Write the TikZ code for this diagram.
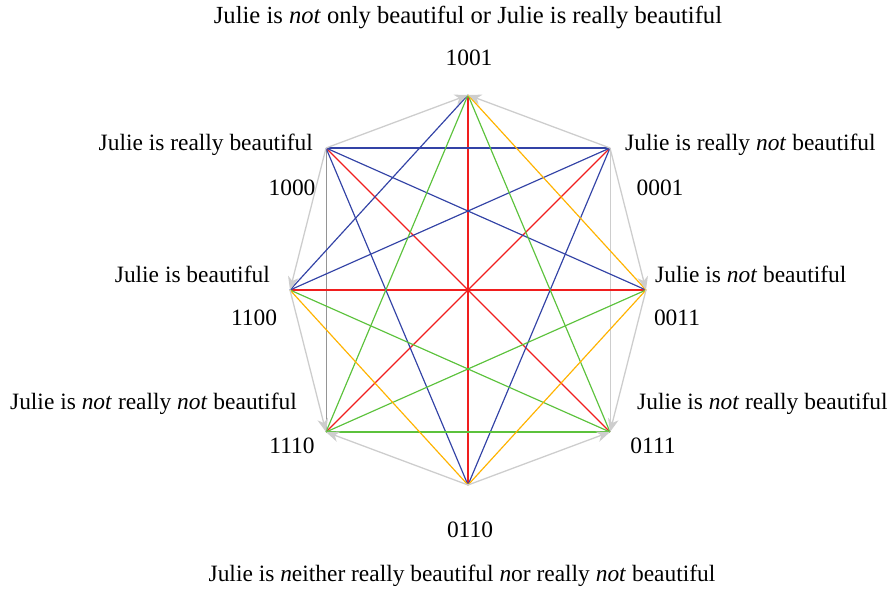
\documentclass[tikz,border=0pt]{standalone}
\usepackage{fontspec}
\setmainfont{Liberation Serif}
\usetikzlibrary{arrows.meta}
\definecolor{cblue}{HTML}{3343A6}
\definecolor{cgreen}{HTML}{5CC23C}
\definecolor{cred}{HTML}{F01E1E}
\definecolor{corange}{HTML}{FFB300}
\definecolor{cgray}{HTML}{CDCDCD}
\definecolor{cdgray}{HTML}{959595}
\tikzset{
  lbl/.style={inner sep=0pt, font=\fontsize{20}{24}\selectfont},
  bl/.style={cblue, line width=1pt},
  gr/.style={cgreen, line width=1pt},
  rd/.style={cred, line width=1pt},
  og/.style={corange, line width=1pt},
  garr/.style={cgray, line width=1.1pt, -{Stealth[length=0.4cm,width=0.32cm,inset=0.12cm]}},
  gline/.style={line width=0.8pt},
}
\begin{document}
\begin{tikzpicture}[x=0.03cm,y=-0.03cm]
\useasboundingbox (0,0) rectangle (894,590);
\coordinate (A) at (468,95);
\coordinate (B) at (610,148);
\coordinate (C) at (646,290);
\coordinate (D) at (610,432);
\coordinate (E) at (468,485);
\coordinate (F) at (326,432);
\coordinate (G) at (290,290);
\coordinate (H) at (326,148);
% verticals
\draw[gline, cdgray] (H) -- (F);
\draw[gline, cgray] (B) -- (D);
% red
\draw[rd] (A) -- (E);
\draw[rd] (G) -- (C);
\draw[rd] (H) -- (D);
\draw[rd] (B) -- (F);
% blue
\draw[bl] (H) -- (B);
\draw[bl] (H) -- (C);
\draw[bl] (H) -- (E);
\draw[bl] (B) -- (G);
\draw[bl] (B) -- (E);
\draw[bl] (A) -- (G);
% green
\draw[gr] (A) -- (F);
\draw[gr] (A) -- (D);
\draw[gr] (G) -- (D);
\draw[gr] (C) -- (F);
\draw[gr] (F) -- (D);
% orange
\draw[og] (A) -- (C);
\draw[og] (C) -- (E);
\draw[og] (G) -- (E);
% gray arrows
\draw[garr] (H) -- (A);
\draw[garr] (B) -- (A);
\draw[garr] (H) -- (G);
\draw[garr] (B) -- (C);
\draw[garr] (G) -- (F);
\draw[garr] (C) -- (D);
\draw[garr] (E) -- (F);
\draw[garr] (E) -- (D);
% labels
\node[lbl, font=\fontsize{21}{25}\selectfont] (tA) at (468,17) {Julie is \textit{not} only beautiful or Julie is really beautiful};
\node[lbl] (nA) at (469,58) {1001};
\node[lbl, anchor=east] (tH) at (313,145) {Julie is really beautiful};
\node[lbl] (nH) at (292,188) {1000};
\node[lbl, anchor=west] (tB) at (625,145) {Julie is really \textit{not} beautiful};
\node[lbl] (nB) at (660,188) {0001};
\node[lbl, anchor=east] (tG) at (270,274) {Julie is beautiful};
\node[lbl] (nG) at (254,318) {1100};
\node[lbl, anchor=west] (tC) at (655,274) {Julie is \textit{not} beautiful};
\node[lbl] (nC) at (677,318) {0011};
\node[lbl, anchor=east] (tF) at (297,404) {Julie is \textit{not} really \textit{not} beautiful};
\node[lbl] (nF) at (292,446) {1110};
\node[lbl, anchor=west] (tD) at (637,404) {Julie is \textit{not} really beautiful};
\node[lbl] (nD) at (653,446) {0111};
\node[lbl] (nE) at (470,530) {0110};
\node[lbl] (tE) at (462,576) {Julie is \textit{n}either really beautiful \textit{n}or really \textit{not} beautiful};
\end{tikzpicture}
\end{document}
